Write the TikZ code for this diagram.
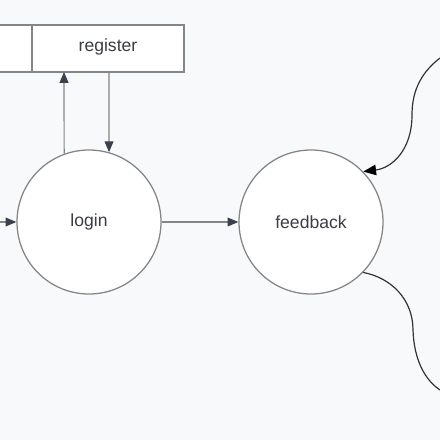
\documentclass[tikz,border=0pt]{standalone}
\usepackage{fontspec}
\setmainfont{Liberation Sans}
\usetikzlibrary{arrows.meta}

\definecolor{bgcol}{HTML}{F8F9FB}
\definecolor{linecol}{HTML}{858585}
\definecolor{tipcol}{HTML}{3A414C}
\definecolor{txtcol}{HTML}{3A3D44}

\tikzset{
    proc/.style={circle, draw=linecol, fill=white, line width=0.9pt,
        minimum size=144*0.025cm, inner sep=0pt, text=txtcol},
    flow/.style={draw=linecol, line width=0.85pt,
        -{Triangle[length=0.27cm, width=0.22cm, color=tipcol]}},
    ext/.style={draw=black!80, line width=0.85pt},
}

\begin{document}
\begin{tikzpicture}[x=0.025cm, y=-0.025cm, font=\fontsize{12.5}{15}\selectfont]
    % Background
    \fill[bgcol] (0,0) rectangle (440,440);
    \useasboundingbox (0,0) rectangle (440,440);

    % Data store
    \fill[white] (0,25) rectangle (184,72);
    \draw[linecol, line width=0.9pt] (0,25) -- (184,25) -- (184,72) -- (0,72);
    \draw[linecol, line width=0.9pt] (32,25) -- (32,72);
    \node[text=txtcol] (register) at (108,47) {register};

    % Processes
    \node[proc] (login) at (89,222) {login};
    \node[proc] (feedback) at (311,222) {feedback};

    % Store connectors
    \coordinate (up) at (64,72);
    \coordinate (down) at (109,72);
    \draw[flow] (login.110) -- (up);
    \draw[flow] (down) -- (login.74);

    % Flows
    \coordinate (in) at (0,222);
    \draw[flow] (in) -- (login);
    \draw[flow] (login) -- (feedback);

    % Curved flows on the right
    \coordinate (c1) at (440,58);
    \coordinate (c2) at (440,390);
    \draw[ext, -{Triangle[length=0.32cm, width=0.26cm, color=black]}]
        (c1) .. controls (418,75) and (412,95) .. (412,115)
        .. controls (412,150) and (392,168) .. (feedback.44);
    \draw[ext] (feedback.-44) .. controls (392,278) and (413,300) .. (413,330)
        .. controls (414,360) and (425,380) .. (c2);
\end{tikzpicture}
\end{document}
